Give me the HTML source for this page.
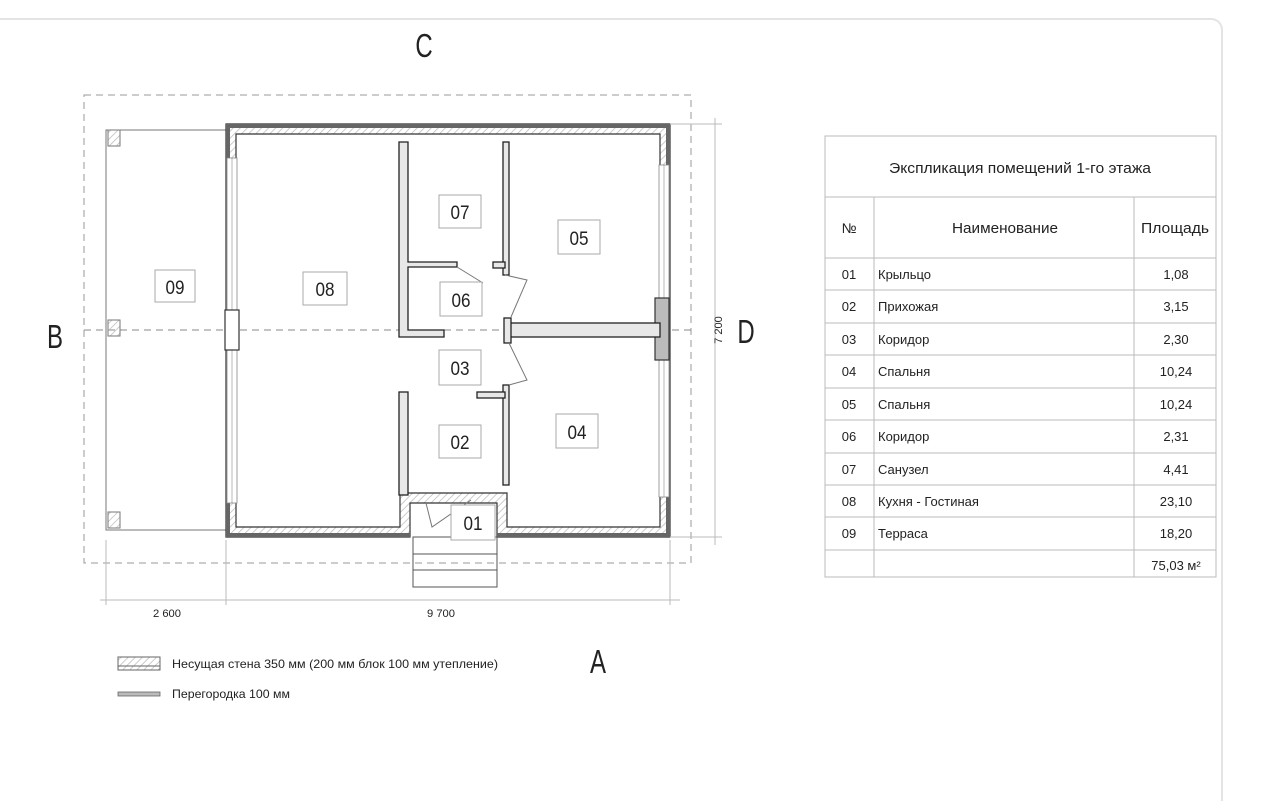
<!DOCTYPE html>
<html><head><meta charset="utf-8"><style>
html,body{margin:0;padding:0;background:#fff;width:1280px;height:801px;overflow:hidden}
svg{display:block}
text{font-family:"Liberation Sans",sans-serif;fill:#222}
</style></head><body>
<svg width="1280" height="801" viewBox="0 0 1280 801" xmlns="http://www.w3.org/2000/svg">
<defs>
<pattern id="h" width="5" height="5" patternUnits="userSpaceOnUse" patternTransform="rotate(45)">
<line x1="0" y1="0" x2="0" y2="5" stroke="#bbb" stroke-width="1.5"/></pattern>
</defs>
<rect x="-20" y="19" width="1242" height="820" rx="11" fill="#fff" stroke="#e4e4e4" stroke-width="2"/>

<rect x="84" y="95" width="607" height="468" fill="none" stroke="#999" stroke-width="1" stroke-dasharray="7,5"/>
<line x1="84" y1="330" x2="691" y2="330" stroke="#888" stroke-width="1" stroke-dasharray="7,5"/>

<rect x="106" y="130" width="120" height="400" fill="none" stroke="#777" stroke-width="1"/>
<rect x="108" y="130" width="12" height="16" fill="url(#h)" stroke="#777"/>
<rect x="108" y="320" width="12" height="16" fill="url(#h)" stroke="#777"/>
<rect x="108" y="512" width="12" height="16" fill="url(#h)" stroke="#777"/>

<path d="M226 124 H670 V537 H497 V503 H410 V537 H226 Z M236 134 V527 H400 V493 H507 V527 H660 V134 Z" fill="url(#h)" fill-rule="evenodd" stroke="#333" stroke-width="1.2"/>
<rect x="226" y="124" width="444" height="4" fill="#666"/>
<rect x="666" y="124" width="4" height="413" fill="#666"/>
<rect x="226" y="533" width="184" height="4" fill="#666"/>
<rect x="497" y="533" width="173" height="4" fill="#666"/>
<rect x="226" y="124" width="4" height="413" fill="#666"/>
<rect x="227" y="158" width="10" height="345" fill="#fff" stroke="#888" stroke-width="0.8"/>
<line x1="232" y1="158" x2="232" y2="503" stroke="#888" stroke-width="0.6"/>
<rect x="225" y="310" width="14" height="40" fill="#fff" stroke="#333" stroke-width="1.2"/>
<rect x="659" y="165" width="10" height="332" fill="#fff" stroke="#888" stroke-width="0.8"/>
<line x1="664" y1="165" x2="664" y2="497" stroke="#888" stroke-width="0.6"/>
<rect x="655" y="298" width="14" height="62" fill="#bbb" stroke="#333" stroke-width="1.2"/>

<g fill="#e8e8e8" stroke="#222" stroke-width="1.3">
<path d="M399 142 H408 V262 H457 V267 H408 V330 H444 V337 H399 Z"/>
<rect x="503" y="142" width="6" height="133"/>
<rect x="493" y="262" width="12" height="6"/>
<rect x="509" y="323" width="151" height="14"/>
<rect x="504" y="318" width="7" height="25"/>
<rect x="503" y="385" width="6" height="100"/>
<rect x="477" y="392" width="28" height="6"/>
<rect x="399" y="392" width="9" height="103"/>
</g>
<g fill="none" stroke="#777" stroke-width="1">
<line x1="457" y1="267" x2="483" y2="283"/>
<polyline points="505,275 527,280 511,317"/>
<polyline points="509,343 527,380 509,385"/>
<polyline points="426,503 432,527 471,500"/>
</g>
<g fill="none" stroke="#555" stroke-width="1">
<rect x="413" y="537" width="84" height="50"/>
<line x1="413" y1="554" x2="497" y2="554"/>
<line x1="413" y1="570" x2="497" y2="570"/>
</g>

<g fill="#fff" stroke="#aaa" stroke-width="1">
<rect x="155" y="270" width="40" height="32"/>
<rect x="303" y="272" width="44" height="33"/>
<rect x="439" y="195" width="42" height="33"/>
<rect x="558" y="220" width="42" height="34"/>
<rect x="440" y="282" width="42" height="34"/>
<rect x="439" y="350" width="42" height="35"/>
<rect x="439" y="425" width="42" height="33"/>
<rect x="556" y="414" width="42" height="34"/>
<rect x="451" y="505" width="44" height="35"/>
</g>
<g font-size="19" text-anchor="middle">
<text x="175" y="294" textLength="19" lengthAdjust="spacingAndGlyphs">09</text>
<text x="325" y="296" textLength="19" lengthAdjust="spacingAndGlyphs">08</text>
<text x="460" y="219" textLength="19" lengthAdjust="spacingAndGlyphs">07</text>
<text x="579" y="245" textLength="19" lengthAdjust="spacingAndGlyphs">05</text>
<text x="461" y="307" textLength="19" lengthAdjust="spacingAndGlyphs">06</text>
<text x="460" y="375" textLength="19" lengthAdjust="spacingAndGlyphs">03</text>
<text x="460" y="449" textLength="19" lengthAdjust="spacingAndGlyphs">02</text>
<text x="577" y="439" textLength="19" lengthAdjust="spacingAndGlyphs">04</text>
<text x="473" y="530" textLength="19" lengthAdjust="spacingAndGlyphs">01</text>
</g>

<g stroke="#bbb" stroke-width="1">
<line x1="106" y1="540" x2="106" y2="605"/>
<line x1="226" y1="540" x2="226" y2="605"/>
<line x1="670" y1="540" x2="670" y2="605"/>
<line x1="100" y1="600" x2="680" y2="600"/>
<line x1="715" y1="118" x2="715" y2="545"/>
<line x1="670" y1="124" x2="722" y2="124"/>
<line x1="670" y1="537" x2="722" y2="537"/>
</g>
<text x="167" y="617" font-size="11" text-anchor="middle" textLength="28" lengthAdjust="spacingAndGlyphs">2 600</text>
<text x="441" y="617" font-size="11" text-anchor="middle" textLength="28" lengthAdjust="spacingAndGlyphs">9 700</text>
<text x="0" y="0" font-size="11" text-anchor="middle" transform="translate(722,330) rotate(-90)">7 200</text>

<g font-size="30" text-anchor="middle">
<text transform="translate(424,57) scale(0.8,1.12)">C</text>
<text transform="translate(55,348) scale(0.8,1.12)">B</text>
<text transform="translate(746,343) scale(0.8,1.12)">D</text>
<text transform="translate(598,673) scale(0.8,1.12)">A</text>
</g>

<rect x="118" y="657" width="42" height="13" fill="url(#h)" stroke="#666"/>
<line x1="118" y1="666" x2="160" y2="666" stroke="#666"/>
<text x="172" y="668" font-size="12" textLength="326" lengthAdjust="spacingAndGlyphs">Несущая стена 350 мм (200 мм блок 100 мм утепление)</text>
<rect x="118" y="692" width="42" height="4" fill="#bbb" stroke="#666" stroke-width="0.8"/>
<text x="172" y="698" font-size="12" textLength="118" lengthAdjust="spacingAndGlyphs">Перегородка 100 мм</text>

<g stroke="#bbb" stroke-width="1" fill="none">
<rect x="825" y="136" width="391" height="441"/>
<line x1="825" y1="197" x2="1216" y2="197"/>
<line x1="874" y1="197" x2="874" y2="577"/>
<line x1="1134" y1="197" x2="1134" y2="577"/>
<line x1="825" y1="258" x2="1216" y2="258"/>
<line x1="825" y1="290" x2="1216" y2="290"/>
<line x1="825" y1="323" x2="1216" y2="323"/>
<line x1="825" y1="355" x2="1216" y2="355"/>
<line x1="825" y1="388" x2="1216" y2="388"/>
<line x1="825" y1="420" x2="1216" y2="420"/>
<line x1="825" y1="453" x2="1216" y2="453"/>
<line x1="825" y1="485" x2="1216" y2="485"/>
<line x1="825" y1="517" x2="1216" y2="517"/>
<line x1="825" y1="550" x2="1216" y2="550"/>
</g>
<text x="1020" y="173" font-size="15" text-anchor="middle" textLength="262" lengthAdjust="spacingAndGlyphs">Экспликация помещений 1-го этажа</text>
<text x="849" y="233" font-size="14" text-anchor="middle">№</text>
<text x="1005" y="233" font-size="15" text-anchor="middle" textLength="106" lengthAdjust="spacingAndGlyphs">Наименование</text>
<text x="1175" y="233" font-size="15" text-anchor="middle" textLength="68" lengthAdjust="spacingAndGlyphs">Площадь</text>
<g font-size="13">
<g text-anchor="middle">
<text x="849" y="279">01</text><text x="849" y="311">02</text><text x="849" y="344">03</text>
<text x="849" y="376">04</text><text x="849" y="409">05</text><text x="849" y="441">06</text>
<text x="849" y="474">07</text><text x="849" y="506">08</text><text x="849" y="538">09</text>
<text x="1176" y="279">1,08</text><text x="1176" y="311">3,15</text><text x="1176" y="344">2,30</text>
<text x="1176" y="376">10,24</text><text x="1176" y="409">10,24</text><text x="1176" y="441">2,31</text>
<text x="1176" y="474">4,41</text><text x="1176" y="506">23,10</text><text x="1176" y="538">18,20</text>
<text x="1176" y="570">75,03 м²</text>
</g>
<text x="878" y="279">Крыльцо</text><text x="878" y="311">Прихожая</text><text x="878" y="344">Коридор</text>
<text x="878" y="376">Спальня</text><text x="878" y="409">Спальня</text><text x="878" y="441">Коридор</text>
<text x="878" y="474">Санузел</text><text x="878" y="506">Кухня - Гостиная</text><text x="878" y="538">Терраса</text>
</g>
</svg>
</body></html>
